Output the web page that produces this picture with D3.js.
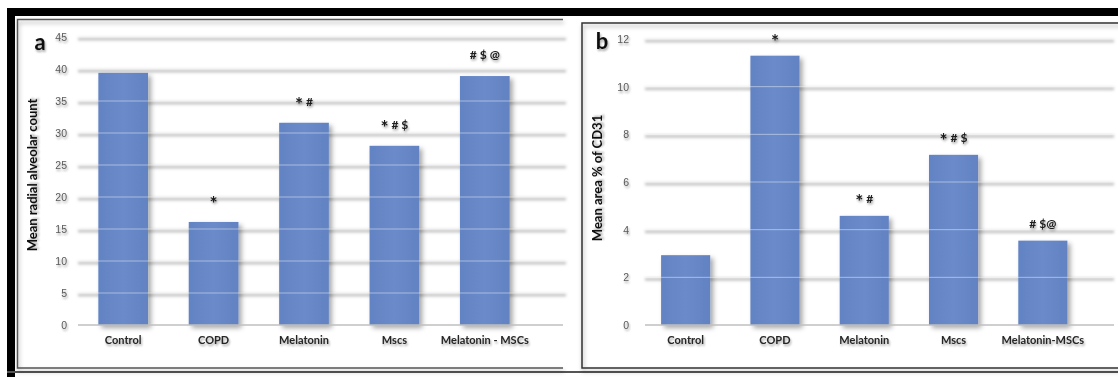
<!DOCTYPE html>
<html>
<head>
<meta charset="utf-8">
<script src="https://cdn.jsdelivr.net/npm/d3@7"></script>
<style>
  html, body { margin: 0; padding: 0; background: #fff; }
  svg { display: block; font-family: Lato, "Open Sans", sans-serif; }
</style>
</head>
<body>
<svg id="chart" width="1118" height="377"></svg>
<script>
// values
const categoriesA = ["Control", "COPD", "Melatonin", "Mscs", "Melatonin - MSCs"];
const valuesA = [39.4, 16.1, 31.6, 28.0, 38.9];
const marksA = ["", "*", "* #", "* # $", "# $ @"];
const ticksA = [0, 5, 10, 15, 20, 25, 30, 35, 40, 45];

const categoriesB = ["Control", "COPD", "Melatonin", "Mscs", "Melatonin-MSCs"];
const valuesB = [2.93, 11.3, 4.58, 7.14, 3.54];
const marksB = ["", "*", "* #", "* # $", "# $@"];
const ticksB = [0, 2, 4, 6, 8, 10, 12];

const svg = d3.select("#chart");
const defs = svg.append("defs");

// soft excel-ish shadows
function shadow(id, dx, dy, sd, op) {
  defs.append("filter").attr("id", id)
    .attr("x", "-30%").attr("y", "-30%").attr("width", "160%").attr("height", "160%")
    .append("feDropShadow")
    .attr("dx", dx).attr("dy", dy).attr("stdDeviation", sd)
    .attr("flood-color", "#000").attr("flood-opacity", op);
}
shadow("barShadow", 3, 3, 2.5, 0.35);
shadow("textShadow", 1, 2, 1.2, 0.35);
shadow("lineShadow", 1, 3, 2, 0.35);
defs.append("filter").attr("id", "blur")
  .attr("x", "-5%").attr("y", "-200%").attr("width", "110%").attr("height", "500%")
  .append("feGaussianBlur").attr("stdDeviation", 1.6);

const grad = defs.append("linearGradient").attr("id", "barFill")
  .attr("x1", 0).attr("x2", 1).attr("y1", 0).attr("y2", 0);
grad.append("stop").attr("offset", "0%").attr("stop-color", "#6383c3");
grad.append("stop").attr("offset", "50%").attr("stop-color", "#6a8aca");
grad.append("stop").attr("offset", "100%").attr("stop-color", "#6282c2");

// outer black frame
svg.append("rect").attr("x", 7).attr("y", 8).attr("width", 1111).attr("height", 8).attr("fill", "#000");
svg.append("rect").attr("x", 7).attr("y", 8).attr("width", 8).attr("height", 369).attr("fill", "#000");
svg.append("rect").attr("x", 7).attr("y", 371).attr("width", 1111).attr("height", 2).attr("fill", "#555");

// panel a frame (top, left, bottom lines)
const frameA = svg.append("g").attr("filter", "url(#lineShadow)")
  .attr("stroke", "#555").attr("stroke-width", 1.5).attr("fill", "none");
frameA.append("path").attr("d", "M563,19.5 H17.5 V368 H563");

// panel b frame
svg.append("rect").attr("x", 582).attr("y", 23).attr("width", 560).attr("height", 345)
  .attr("fill", "none").attr("stroke", "#333").attr("stroke-width", 1.5)
  .attr("filter", "url(#lineShadow)");

function panel(opt) {
  const g = svg.append("g");
  const x = d3.scaleBand().domain(opt.categories).range(opt.xRange)
    .paddingInner(0.45).paddingOuter(0.225);
  const y = d3.scaleLinear().domain([0, opt.max]).range([325, opt.top]);

  // gridline shadows under the bars
  g.append("g").attr("filter", "url(#blur)")
    .selectAll("line").data(opt.ticks.filter(d => d > 0)).join("line")
    .attr("x1", opt.gridX[0]).attr("x2", opt.gridX[1])
    .attr("y1", d => y(d) + 2).attr("y2", d => y(d) + 2)
    .attr("stroke", "#b9b9b9").attr("stroke-width", 2.5);

  // bars
  g.append("g").selectAll("rect")
    .data(opt.values).join("rect")
    .attr("x", (d, i) => x(opt.categories[i]))
    .attr("width", x.bandwidth())
    .attr("y", d => y(d))
    .attr("height", d => y(0) - y(d))
    .attr("fill", "url(#barFill)")
    .attr("filter", "url(#barShadow)");

  // light gridlines drawn over everything
  g.append("g").selectAll("line").data(opt.ticks.filter(d => d > 0)).join("line")
    .attr("x1", opt.gridX[0]).attr("x2", opt.gridX[1])
    .attr("y1", d => y(d)).attr("y2", d => y(d))
    .attr("stroke", "#fff").attr("stroke-opacity", 0.45).attr("stroke-width", 1);

  // x axis line
  g.append("line").attr("x1", opt.gridX[0]).attr("x2", opt.axisEnd)
    .attr("y1", y(0)).attr("y2", y(0))
    .attr("stroke", "#bfbfbf").attr("stroke-width", 1.5);

  // y axis using d3 axis, then restyled
  const ay = g.append("g").attr("transform", `translate(${opt.tickX},0)`)
    .call(d3.axisLeft(y).tickValues(opt.ticks).tickSize(0).tickPadding(0));
  ay.select(".domain").remove();
  ay.selectAll("text").attr("fill", "#595959").attr("font-size", 10.5)
    .attr("filter", "url(#textShadow)");

  // x axis labels
  const ax = g.append("g").attr("transform", `translate(0,${y(0)})`)
    .call(d3.axisBottom(x).tickSize(0).tickPadding(11));
  ax.select(".domain").remove();
  ax.selectAll("text").attr("fill", "#262626").attr("font-size", 11)
    .attr("font-weight", "bold").attr("font-family", "Lato, sans-serif")
    .attr("filter", "url(#textShadow)");

  // significance marks, the asterisk is set bigger and pulled down
  const m = g.append("g").attr("filter", "url(#textShadow)");
  opt.marks.forEach((s, i) => {
    if (!s) return;
    const t = m.append("text")
      .attr("x", x(opt.categories[i]) + x.bandwidth() / 2)
      .attr("y", y(opt.values[i]) - opt.markGap)
      .attr("text-anchor", "middle").attr("fill", "#1a1a1a")
      .attr("font-weight", "bold").attr("font-size", 12);
    let shifted = 0;
    s.split("").forEach(ch => {
      const want = ch === "*" ? 5 : 0;
      t.append("tspan").text(ch)
        .attr("font-size", ch === "*" ? 19 : 12)
        .attr("dy", want - shifted);
      shifted = want;
    });
  });

  // y title
  g.append("text")
    .attr("transform", `translate(${opt.titleX},${opt.titleY}) rotate(-90)`)
    .attr("text-anchor", "middle").attr("dy", "0.35em")
    .attr("font-weight", "bold").attr("font-size", 13).attr("fill", "#111")
    .attr("filter", "url(#textShadow)")
    .text(opt.title);

  // panel letter
  g.append("text").attr("x", opt.letterX).attr("y", opt.letterY)
    .attr("text-anchor", "middle").attr("font-weight", "bold").attr("font-size", 22)
    .attr("fill", "#111").attr("filter", "url(#textShadow)")
    .text(opt.letter);
}

panel({
  categories: categoriesA, values: valuesA, marks: marksA, ticks: ticksA,
  max: 45, top: 37, xRange: [78, 530], gridX: [78, 566], axisEnd: 563,
  tickX: 67, markGap: 17, title: "Mean radial alveolar count",
  titleX: 32, titleY: 175, letter: "a", letterX: 40, letterY: 50
});

panel({
  categories: categoriesB, values: valuesB, marks: marksB, ticks: ticksB,
  max: 12, top: 39, xRange: [641, 1087.5], gridX: [645, 1114], axisEnd: 1114,
  tickX: 629, markGap: 13, title: "Mean area % of CD31",
  titleX: 597, titleY: 178, letter: "b", letterX: 602, letterY: 49
});
</script>
</body>
</html>
